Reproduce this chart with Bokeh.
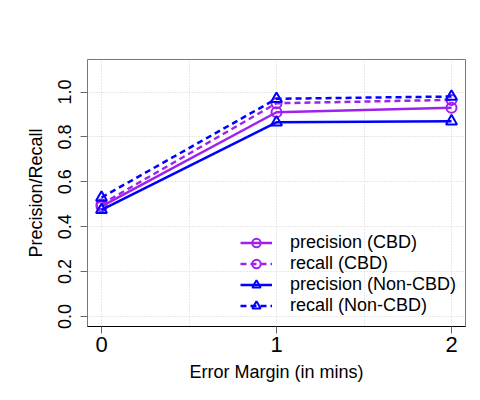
from bokeh.plotting import figure
from bokeh.models import (Range1d, FixedTicker, PrintfTickFormatter, Legend, LegendItem)
from bokeh.embed import file_html
from bokeh.resources import INLINE

# Error margin (minutes) on the x axis
error_margin = [0, 1, 2]
x_ticks = [0, 1, 2]
y_ticks = [0.0, 0.2, 0.4, 0.6, 0.8, 1.0]

# Precision / recall for each detector
precision_cbd = [0.49, 0.91, 0.93]
recall_cbd = [0.50, 0.95, 0.965]
precision_noncbd = [0.475, 0.865, 0.87]
recall_noncbd = [0.53, 0.97, 0.98]

series_labels = ["precision (CBD)", "recall (CBD)", "precision (Non-CBD)", "recall (Non-CBD)"]

PURPLE = "#A020F0"
BLUE = "#0000FF"
FONT = "Liberation Sans"

p = figure(width=480, height=400, output_backend="svg", toolbar_location=None,
           x_range=Range1d(-0.08, 2.08), y_range=Range1d(-0.045, 1.145),
           min_border_left=87, min_border_right=15, min_border_top=59, min_border_bottom=74)

p.background_fill_color = "white"
p.border_fill_color = "white"
p.outline_line_color = "#777777"
p.outline_line_width = 1

# grid
p.xgrid.ticker = FixedTicker(ticks=[0, 0.5, 1, 1.5, 2])
p.ygrid.ticker = FixedTicker(ticks=y_ticks)
for g in (p.xgrid, p.ygrid):
    g.grid_line_color = "#d0d0d0"
    g.grid_line_dash = "1 2"
    g.grid_line_width = 1

# x axis
xa = p.xaxis[0]
xa.ticker = FixedTicker(ticks=x_ticks)
xa.axis_line_color = "black"
xa.axis_line_width = 1.2
xa.major_tick_line_color = "#666666"
xa.major_tick_in = 0
xa.major_tick_out = 7
xa.minor_tick_line_color = None
xa.major_label_text_font = FONT
xa.major_label_text_font_size = "22px"
xa.major_label_text_color = "black"
xa.major_label_standoff = 3
xa.axis_label = "Error Margin (in mins)"
xa.axis_label_text_font = FONT
xa.axis_label_text_font_size = "18px"
xa.axis_label_text_font_style = "normal"
xa.axis_label_text_color = "black"
xa.axis_label_standoff = 7

# y axis
ya = p.yaxis[0]
ya.ticker = FixedTicker(ticks=y_ticks)
ya.formatter = PrintfTickFormatter(format="%.1f")
ya.axis_line_color = None
ya.major_tick_line_color = "#666666"
ya.major_tick_in = 0
ya.major_tick_out = 7
ya.minor_tick_line_color = None
ya.major_label_orientation = "vertical"
ya.major_label_text_font = FONT
ya.major_label_text_font_size = "18px"
ya.major_label_text_color = "black"
ya.major_label_standoff = 9
ya.axis_label = "Precision/Recall"
ya.axis_label_text_font = FONT
ya.axis_label_text_font_size = "18px"
ya.axis_label_text_font_style = "normal"
ya.axis_label_text_color = "black"
ya.axis_label_standoff = 10

specs = [
    (precision_cbd, PURPLE, "solid", "circle", 10),
    (recall_cbd, PURPLE, "6 4", "circle", 10),
    (precision_noncbd, BLUE, "solid", "triangle", 11),
    (recall_noncbd, BLUE, "6 4", "triangle", 11),
]

items = []
for (vals, color, dash, marker, size), label in zip(specs, series_labels):
    ln = p.line(error_margin, vals, line_color=color, line_width=2.5, line_dash=dash)
    mk = p.scatter(error_margin, vals, marker=marker, size=size, fill_color=None,
                   line_color=color, line_width=2)
    items.append(LegendItem(label=label, renderers=[ln, mk]))

legend = Legend(items=items, location=(153, 10))
legend.border_line_color = None
legend.background_fill_alpha = 0
legend.padding = 0
legend.margin = 0
legend.spacing = 0
legend.glyph_width = 32
legend.glyph_height = 21
legend.label_height = 21
legend.label_standoff = 18
legend.label_text_font = FONT
legend.label_text_font_size = "18px"
legend.label_text_color = "black"
p.add_layout(legend, "center")

open("out.html", "w").write(file_html(p, INLINE))
